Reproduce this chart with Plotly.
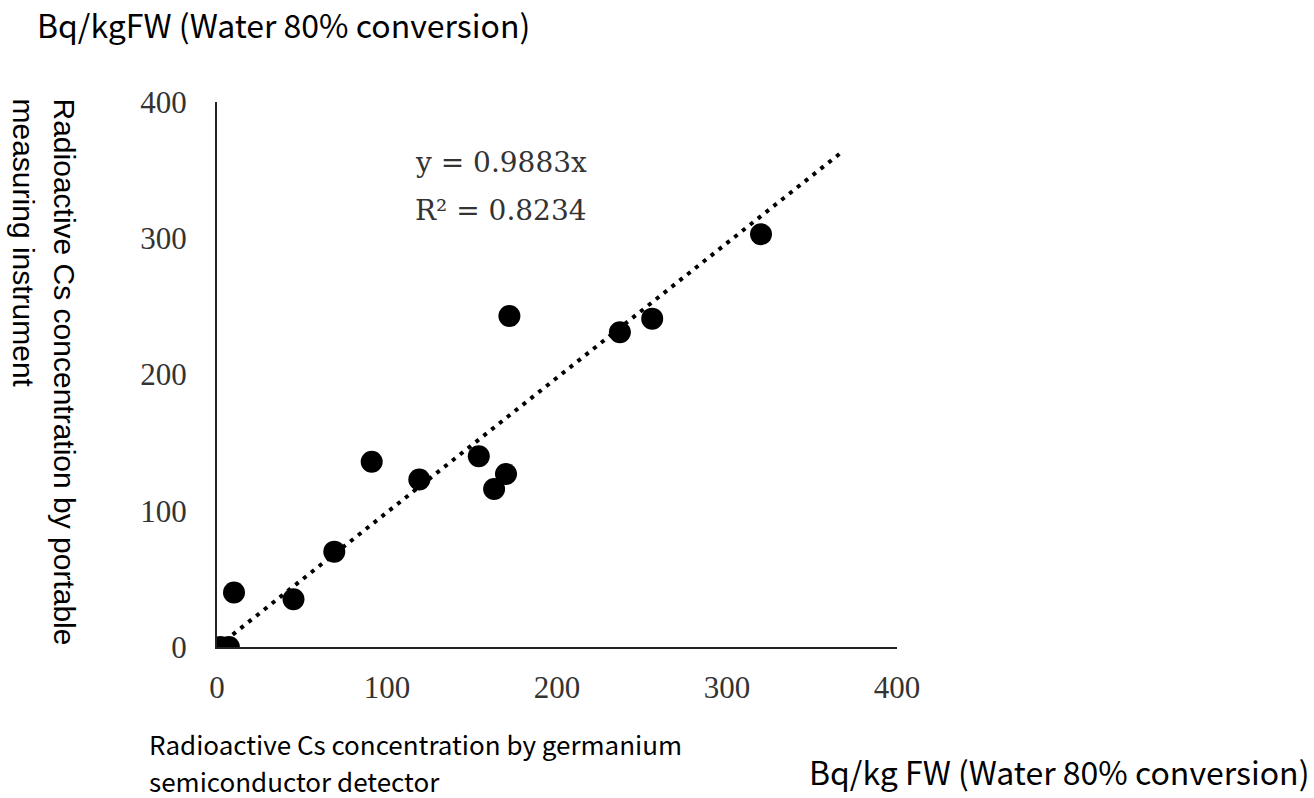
import plotly.graph_objects as go

# Data (Bq/kg FW)
germanium = [2, 7, 10, 45, 69, 91, 119, 154, 163, 170, 172, 237, 256, 320]
portable = [0, 0, 40, 35, 70, 136, 123, 140, 116, 127, 243, 231, 241, 303]
slope = 0.9883
r2 = 0.8234
trend_x = [0, 367]
trend_y = [slope * v for v in trend_x]
ticks = [0, 100, 200, 300, 400]

W, H = 1314, 798
L, R, T, B = 217, 417, 102, 151
pw, ph = W - L - R, H - T - B


def px(x):
    return (x - L) / pw


def py(y):
    return (H - B - y) / ph


fig = go.Figure()
fig.add_trace(go.Scatter(x=trend_x, y=trend_y, mode="lines",
                         line=dict(color="black", width=4, dash="4px,6px"),
                         hoverinfo="skip", showlegend=False))
fig.add_trace(go.Scatter(x=germanium, y=portable, mode="markers",
                         marker=dict(color="black", size=22),
                         showlegend=False))

tickfont = dict(family="Liberation Serif", size=31, color="#333333")
fig.update_layout(
    width=W, height=H, autosize=False,
    margin=dict(l=L, r=R, t=T, b=B),
    plot_bgcolor="white", paper_bgcolor="white",
    xaxis=dict(range=[0, 400], tickvals=ticks, showgrid=False, zeroline=False,
               showline=True, linecolor="#222222", linewidth=2, ticks="",
               tickfont=tickfont, ticklabelstandoff=12),
    yaxis=dict(range=[0, 400], tickvals=ticks, showgrid=False, zeroline=False,
               showline=True, linecolor="#222222", linewidth=2, ticks="",
               tickfont=tickfont, ticklabelstandoff=22),
)

eqfont = dict(family="DejaVu Serif", size=28, color="#333333")
fig.add_annotation(x=px(413), y=py(162), xref="paper", yref="paper",
                   text=f"y = {slope}x", showarrow=False,
                   xanchor="left", yanchor="middle", font=eqfont)
fig.add_annotation(x=px(413), y=py(210), xref="paper", yref="paper",
                   text=f"R² = {r2}", showarrow=False,
                   xanchor="left", yanchor="middle", font=eqfont)

gothic = "Noto Sans CJK JP"
fig.add_annotation(x=px(35), y=py(24), xref="paper", yref="paper",
                   text="Bq/kgFW (Water 80% conversion)",
                   showarrow=False, xanchor="left", yanchor="middle",
                   font=dict(family=gothic, size=32, color="black"))
fig.add_annotation(x=px(147), y=py(743), xref="paper", yref="paper",
                   text="Radioactive Cs concentration by germanium",
                   showarrow=False, xanchor="left", yanchor="middle",
                   font=dict(family=gothic, size=26, color="black"))
fig.add_annotation(x=px(147), y=py(780), xref="paper", yref="paper",
                   text="semiconductor detector",
                   showarrow=False, xanchor="left", yanchor="middle",
                   font=dict(family=gothic, size=26, color="black"))
fig.add_annotation(x=px(1311), y=py(771), xref="paper", yref="paper",
                   text="Bq/kg FW (Water 80% conversion)",
                   showarrow=False, xanchor="right", yanchor="middle",
                   font=dict(family=gothic, size=32, color="black"))
sans = dict(family="Liberation Sans", size=30, color="black")
fig.add_annotation(x=px(64), y=py(96), xref="paper", yref="paper",
                   text="Radioactive Cs concentration by portable",
                   showarrow=False, textangle=90, xanchor="center", yanchor="top",
                   font=sans)
fig.add_annotation(x=px(23), y=py(96), xref="paper", yref="paper",
                   text="measuring instrument",
                   showarrow=False, textangle=90, xanchor="center", yanchor="top",
                   font=sans)

fig.write_html("out.html")
